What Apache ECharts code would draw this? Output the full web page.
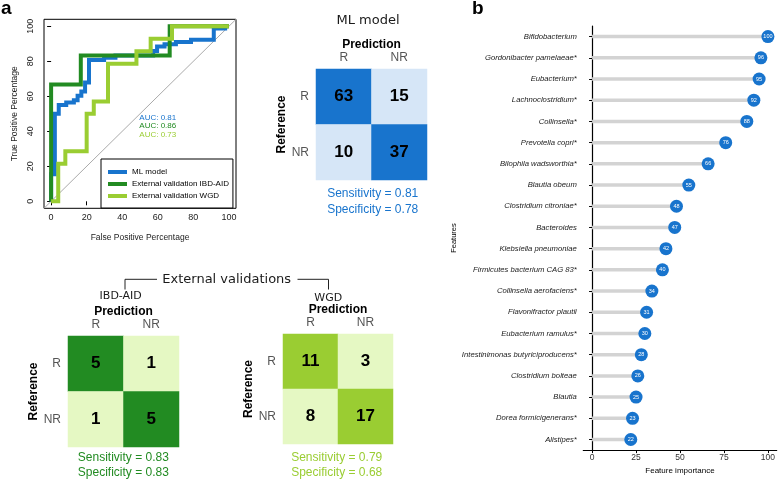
<!DOCTYPE html>
<html><head><meta charset="utf-8">
<script src="https://cdn.jsdelivr.net/npm/echarts@6/dist/echarts.min.js"></script>
<style>html,body{margin:0;padding:0;background:#fff}#c{width:778px;height:480px}</style>
</head><body><div id="c"></div>
<script>
// ---------- data ----------
const rocNames = ['ML model', 'External validation IBD-AID', 'External validation WGD'];
const rocML = [[0,0],[0,15.4],[2.1,15.4],[2.1,50],[4.3,50],[4.3,55.1],[8.5,55.1],[8.5,56.4],[12.8,56.4],[12.8,57.7],[14.9,57.7],[14.9,60.3],[17,60.3],[17,62.8],[19.1,62.8],[19.1,67.9],[21.3,67.9],[21.3,80.8],[29.8,80.8],[29.8,82.1],[36.2,82.1],[36.2,83.3],[57.4,83.3],[57.4,85.9],[59.6,85.9],[59.6,88.5],[63.8,88.5],[63.8,89.7],[70.2,89.7],[70.2,91],[78.7,91],[78.7,92.3],[91.5,92.3],[91.5,98.7],[97.9,98.7],[97.9,100],[100,100]];
const rocIBD = [[0,0],[0,66.7],[16.7,66.7],[16.7,83.3],[66.7,83.3],[66.7,100],[100,100]];
const rocWGD = [[0,0],[4,0],[4,21.4],[8,21.4],[8,28.6],[20,28.6],[20,50],[24,50],[24,57.1],[32,57.1],[32,78.6],[48,78.6],[48,85.7],[56,85.7],[56,92.9],[68,92.9],[68,100],[100,100]];
const aucValues = [0.81, 0.86, 0.73];
const rocTicks = [0, 20, 40, 60, 80, 100];

const predLabels = ['R', 'NR'];
const refLabels = ['R', 'NR'];
const cmML  = [[63, 15], [10, 37]];   // rows: reference R/NR, cols: prediction R/NR
const cmIBD = [[5, 1], [1, 5]];
const cmWGD = [[11, 3], [8, 17]];
const cmTitles = ['ML model', 'IBD-AID', 'WGD'];
const sensitivity = [0.81, 0.83, 0.79];
const specificity = [0.78, 0.83, 0.68];

const features = ['Bifidobacterium','Gordonibacter pamelaeae*','Eubacterium*','Lachnoclostridium*','Collinsella*','Prevotella copri*','Bilophila wadsworthia*','Blautia obeum','Clostridium citroniae*','Bacteroides','Klebsiella pneumoniae','Firmicutes bacterium CAG 83*','Collinsella aerofaciens*','Flavonifractor plautii','Eubacterium ramulus*','Intestinimonas butyriciproducens*','Clostridium bolteae','Blautia','Dorea formicigenerans*','Alistipes*'];
const importance = [100, 96, 95, 92, 88, 76, 66, 55, 48, 47, 42, 40, 34, 31, 30, 28, 26, 25, 23, 22];
const impTicks = [0, 25, 50, 75, 100];

// ---------- styles ----------
const BLUE = '#1874CD', LBLUE = '#D6E6F7';
const DGREEN = '#228B22', YGREEN = '#9ACD32', LGREEN = '#E5F8C3';
const rocColors = [BLUE, DGREEN, YGREEN];
const FONT = 'Liberation Sans, Arial, sans-serif';
const DV = 'DejaVu Sans, sans-serif';

const chart = echarts.init(document.getElementById('c'), null, {renderer: 'canvas'});

function cmData(cm, dark, light) {
  const out = [];
  cm.forEach((row, i) => row.forEach((v, j) => {
    out.push({value: [j, i, v], itemStyle: {color: i === j ? dark : light}});
  }));
  return out;
}

const cmGrids = [
  {left: 316, top: 69, width: 111, height: 111},
  {left: 68, top: 336, width: 111, height: 111},
  {left: 283, top: 334, width: 110, height: 110}
];
const cmSets = [[cmML, BLUE, LBLUE], [cmIBD, DGREEN, LGREEN], [cmWGD, YGREEN, LGREEN]];

const grids = [
  {left: 44, top: 19.3, width: 192, height: 189, show: true, borderColor: '#000', borderWidth: 1, backgroundColor: 'transparent'},
  ...cmGrids,
  {left: 583.3, top: 26, width: 194.7, height: 431.5}
];

const xAxes = [
  {gridIndex: 0, type: 'value', min: -4, max: 104,
   axisLine: {show: false}, splitLine: {show: false},
   axisTick: {show: true, customValues: rocTicks, length: 4, lineStyle: {color: '#000'}},
   axisLabel: {customValues: rocTicks, fontSize: 9, color: '#222', margin: 5, fontFamily: FONT},
   name: 'False Positive Percentage', nameLocation: 'middle', nameGap: 25,
   nameTextStyle: {fontSize: 8.5, color: '#222', fontFamily: FONT}}
];
const yAxes = [
  {gridIndex: 0, type: 'value', min: -4, max: 104,
   axisLine: {show: false}, splitLine: {show: false},
   axisTick: {show: true, customValues: rocTicks, length: 4, lineStyle: {color: '#000'}},
   axisLabel: {customValues: rocTicks, fontSize: 9, color: '#222', margin: 9, rotate: 90, align: 'center', verticalAlign: 'bottom', fontFamily: FONT},
   name: 'True Positive Percentage', nameLocation: 'middle', nameGap: 25, nameRotate: 90,
   nameTextStyle: {fontSize: 8.5, color: '#222', fontFamily: FONT}}
];
cmGrids.forEach((g, k) => {
  xAxes.push({gridIndex: k + 1, type: 'category', data: predLabels, position: 'top',
    axisLine: {show: false}, axisTick: {show: false}, splitArea: {show: false}, splitLine: {show: false},
    axisLabel: {fontSize: 12, color: '#555', margin: 5, fontFamily: FONT},
    name: 'Prediction', nameLocation: 'middle', nameGap: 17,
    nameTextStyle: {fontSize: 12, fontWeight: 'bold', color: '#000', fontFamily: FONT}});
  yAxes.push({gridIndex: k + 1, type: 'category', data: refLabels, inverse: true,
    axisLine: {show: false}, axisTick: {show: false}, splitArea: {show: false}, splitLine: {show: false},
    axisLabel: {fontSize: 12, color: '#555', margin: 7, fontFamily: FONT},
    name: 'Reference', nameLocation: 'middle', nameGap: 26, nameRotate: 90,
    nameTextStyle: {fontSize: 12, fontWeight: 'bold', color: '#000', fontFamily: FONT}});
});
xAxes.push({gridIndex: 4, type: 'value', min: -5, max: 105,
  axisLine: {show: true, lineStyle: {color: '#000', width: 1.2}}, splitLine: {show: false},
  axisTick: {show: true, customValues: impTicks, length: 3, lineStyle: {color: '#000'}},
  axisLabel: {customValues: impTicks, fontSize: 8.5, color: '#333', margin: 3, fontFamily: FONT},
  name: 'Feature importance', nameLocation: 'middle', nameGap: 12,
  nameTextStyle: {fontSize: 8, color: '#000', fontFamily: FONT}});
yAxes.push({gridIndex: 4, type: 'category', data: features, inverse: true,
  axisLine: {show: true, lineStyle: {color: '#000', width: 1.2}},
  axisTick: {show: true, alignWithLabel: true, length: 3, lineStyle: {color: '#000'}},
  axisLabel: {fontSize: 7.7, fontStyle: 'italic', color: '#1a1a1a', margin: 6.5, fontFamily: FONT},
  name: 'Features', nameLocation: 'middle', nameGap: 119, nameRotate: 90,
  nameTextStyle: {fontSize: 7.5, color: '#000', fontFamily: FONT}});

const series = [
  {type: 'line', xAxisIndex: 0, yAxisIndex: 0, data: [[-4, -4], [104, 104]], symbol: 'none', silent: true,
   lineStyle: {color: '#aaaaaa', width: 1}, z: 1}
];
[rocML, rocIBD, rocWGD].forEach((d, k) => {
  series.push({type: 'line', name: rocNames[k], xAxisIndex: 0, yAxisIndex: 0, data: d,
    symbol: 'none', showSymbol: false, color: rocColors[k],
    itemStyle: {color: rocColors[k]},
    lineStyle: {color: rocColors[k], width: 4, join: 'miter', cap: 'butt'}, z: 2 + k});
});
cmSets.forEach((s, k) => {
  series.push({type: 'heatmap', xAxisIndex: k + 1, yAxisIndex: k + 1, data: cmData(s[0], s[1], s[2]),
    label: {show: true, fontSize: 17, fontWeight: 'bold', color: '#000', fontFamily: FONT},
    itemStyle: {borderWidth: 0}, emphasis: {disabled: true}, silent: true});
});
series.push({type: 'bar', xAxisIndex: 4, yAxisIndex: 4, data: importance, barWidth: 3.5,
  itemStyle: {color: '#D3D3D3'}, silent: true, z: 2});
series.push({type: 'scatter', xAxisIndex: 4, yAxisIndex: 4, data: importance.map((v, i) => [v, i]),
  symbolSize: 13, itemStyle: {color: BLUE, opacity: 1}, z: 3, silent: true,
  label: {show: true, position: 'inside', formatter: p => p.value[0], fontSize: 5.5, color: '#fff', fontFamily: FONT}});

// ---------- text annotations ----------
const graphic = [];
function txt(x, y, text, font, fill, align) {
  graphic.push({type: 'text', x: x, y: y, silent: true,
    style: {text: text, font: font, fill: fill, align: align || 'center', verticalAlign: 'middle'}});
}
txt(1, 9, 'a', 'bold 19px ' + FONT, '#000', 'left');
txt(472, 9, 'b', 'bold 19px ' + FONT, '#000', 'left');
[117.3, 126, 134.7].forEach((y, k) => txt(139.3, y, 'AUC: ' + aucValues[k].toFixed(2), '8px ' + FONT, rocColors[k], 'left'));

const titlePos = [[368, 21, '13px ' + DV], [120.7, 296, '11px ' + DV], [328.3, 297.7, '11px ' + DV]];
titlePos.forEach((p, k) => txt(p[0], p[1], cmTitles[k], p[2], '#1a1a1a'));
const statPos = [[372.7, 194, 209.3], [123.3, 457.7, 472.3], [336.7, 457.7, 472.3]];
const statColors = [BLUE, DGREEN, YGREEN];
statPos.forEach((p, k) => {
  txt(p[0], p[1], 'Sensitivity = ' + sensitivity[k].toFixed(2), '12px ' + FONT, statColors[k]);
  txt(p[0], p[2], 'Specificity = ' + specificity[k].toFixed(2), '12px ' + FONT, statColors[k]);
});
txt(226.7, 279.3, 'External validations', '13px ' + DV, '#1a1a1a');
graphic.push({type: 'polyline', silent: true, shape: {points: [[125, 289.5], [125, 279.3], [157, 279.3]]}, style: {stroke: '#222', lineWidth: 1, fill: null}});
graphic.push({type: 'polyline', silent: true, shape: {points: [[297.5, 279.3], [328.5, 279.3], [328.5, 289.5]]}, style: {stroke: '#222', lineWidth: 1, fill: null}});

chart.setOption({
  animation: false,
  textStyle: {fontFamily: FONT},
  grid: grids,
  xAxis: xAxes,
  yAxis: yAxes,
  legend: {data: rocNames, orient: 'vertical', left: 101, top: 159, icon: 'rect',
    itemWidth: 19, itemHeight: 4, itemGap: 2, padding: [8, 4, 7, 7],
    borderColor: '#000', borderWidth: 1, backgroundColor: '#fff', selectedMode: false,
    textStyle: {fontSize: 8, color: '#000', lineHeight: 10, fontFamily: FONT}},
  series: series,
  graphic: graphic
});
</script>
</body></html>
